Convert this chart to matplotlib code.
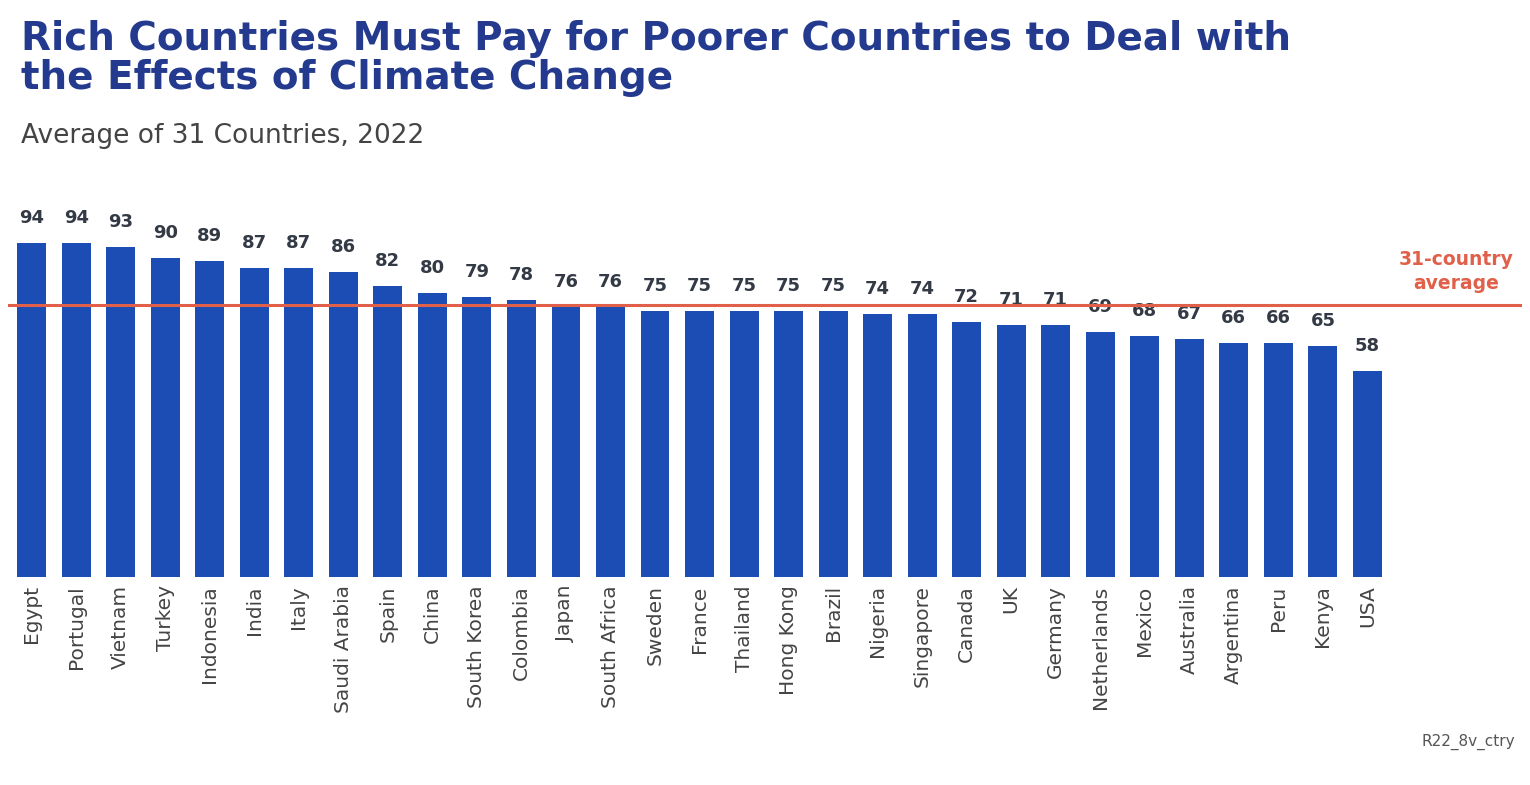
import matplotlib
matplotlib.use("Agg")
import matplotlib.pyplot as plt
import numpy as np

countries = ["Egypt", "Portugal", "Vietnam", "Turkey", "Indonesia", "India", "Italy",
             "Saudi Arabia", "Spain", "China", "South Korea", "Colombia", "Japan",
             "South Africa", "Sweden", "France", "Thailand", "Hong Kong", "Brazil",
             "Nigeria", "Singapore", "Canada", "UK", "Germany", "Netherlands",
             "Mexico", "Australia", "Argentina", "Peru", "Kenya", "USA"]
values = [94, 94, 93, 90, 89, 87, 87, 86, 82, 80, 79, 78, 76, 76, 75, 75, 75, 75, 75,
          74, 74, 72, 71, 71, 69, 68, 67, 66, 66, 65, 58]
average = 76.6

BLUE = "#1c4db4"
NAVY = "#233a8e"
RED = "#e0604a"

fig = plt.figure(figsize=(15.3, 7.85), dpi=100)
ax = fig.add_axes([0.005, 0.265, 0.99, 0.452])
x = np.arange(len(countries))
ax.bar(x, values, width=0.65, color=BLUE)
for xi, v in zip(x, values):
    ax.text(xi, v + 4.5, str(v), ha="center", va="bottom", fontsize=13,
            fontweight="bold", color="#333a45")
ax.axhline(average, color=RED, linewidth=2.2, zorder=3)
ax.set_xlim(-0.54, 33.48)
ax.set_ylim(0, 100)
ax.set_xticks(x)
ax.set_xticklabels(countries, rotation=90, fontsize=14.5, color="#444444")
ax.tick_params(axis="x", length=0, pad=6)
ax.set_yticks([])
for s in ax.spines.values():
    s.set_visible(False)

ax.text(32.0, average + 3.5, "31-country\naverage", ha="center", va="bottom",
        fontsize=13.5, fontweight="bold", color=RED, linespacing=1.3)

fig.text(0.014, 0.975, "Rich Countries Must Pay for Poorer Countries to Deal with\nthe Effects of Climate Change",
         ha="left", va="top", fontsize=28, fontweight="bold", color=NAVY, linespacing=1.05)
fig.text(0.014, 0.81, "Average of 31 Countries, 2022", ha="left", va="bottom",
         fontsize=19, color="#444444")
fig.text(0.99, 0.045, "R22_8v_ctry", ha="right", va="bottom", fontsize=11, color="#555555")

fig.savefig("out.png", dpi=100)
